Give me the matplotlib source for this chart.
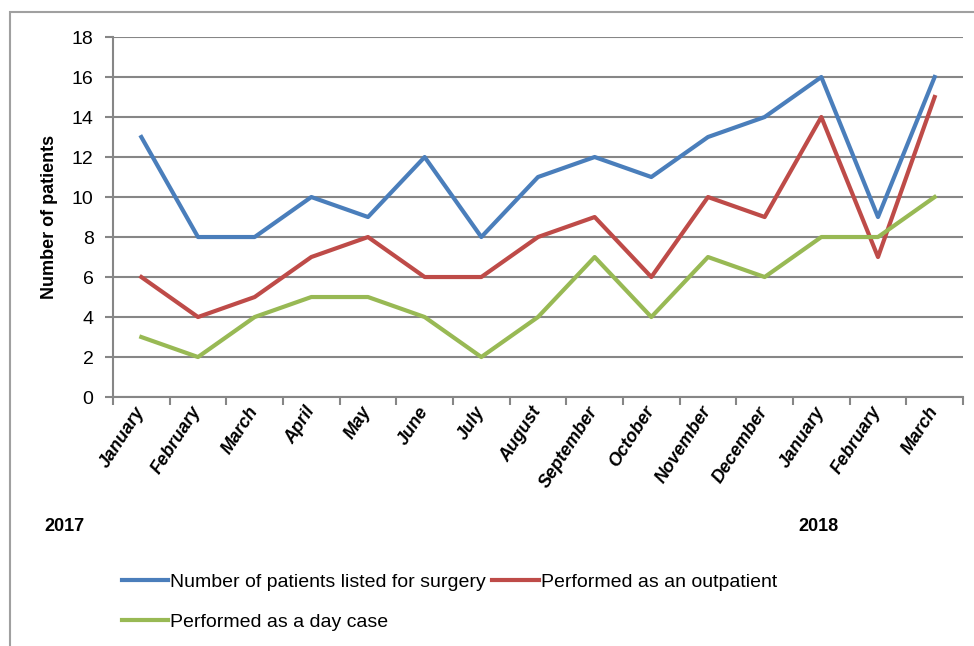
import matplotlib
matplotlib.use('Agg')
import matplotlib.pyplot as plt
from matplotlib.patches import Rectangle

plt.rcParams['font.family'] = ['Liberation Sans Narrow', 'Liberation Sans', 'DejaVu Sans']

# Monthly patient counts, January 2017 - March 2018
months = ['January', 'February', 'March', 'April', 'May', 'June', 'July', 'August',
          'September', 'October', 'November', 'December', 'January', 'February', 'March']
listed = [13, 8, 8, 10, 9, 12, 8, 11, 12, 11, 13, 14, 16, 9, 16]
outpatient = [6, 4, 5, 7, 8, 6, 6, 8, 9, 6, 10, 9, 14, 7, 15]
day_case = [3, 2, 4, 5, 5, 4, 2, 4, 7, 4, 7, 6, 8, 8, 10]
years = ['2017', '2018']

fig = plt.figure(figsize=(9.74, 6.46), dpi=100)
ax = fig.add_axes([0.116, 0.3854, 0.8727, 0.5573])

# outer chart border
fig.patches.append(Rectangle((0.0103, -0.05), 1.1, 1.031, transform=fig.transFigure,
                             fill=False, edgecolor='#a0a0a0', linewidth=1.5))

x = range(len(months))
l1, = ax.plot(x, listed, color='#4a7ebb', linewidth=3, label='Number of patients listed for surgery')
l2, = ax.plot(x, outpatient, color='#be4b48', linewidth=3, label='Performed as an outpatient')
l3, = ax.plot(x, day_case, color='#98b954', linewidth=3, label='Performed as a day case')

ax.set_xlim(-0.5, len(months) - 0.5)
ax.set_ylim(0, 18)
ax.set_yticks(range(0, 19, 2))
ax.yaxis.grid(True, color='#868686', linewidth=1.5)
ax.set_axisbelow(True)

for side in ['top', 'right']:
    ax.spines[side].set_visible(False)
for side in ['left', 'bottom']:
    ax.spines[side].set_color('#868686')
    ax.spines[side].set_linewidth(1.5)

# tick marks between categories, labels on the categories
ax.set_xticks([i - 0.5 for i in range(len(months) + 1)])
ax.set_xticklabels([])
ax.set_xticks(list(x), minor=True)
ax.set_xticklabels(months, minor=True, rotation=57, ha='right', va='center',
                   rotation_mode='anchor', fontsize=13, fontweight='bold', style='italic')
ax.tick_params(axis='x', which='major', length=6, color='#868686', width=1.5)
ax.tick_params(axis='x', which='minor', length=0, pad=8)
ax.tick_params(axis='y', length=6, color='#868686', width=1.5, labelsize=14, pad=8)

ax.set_ylabel('Number of patients', fontsize=13, fontweight='bold', labelpad=10)

fig.text(0.046, 0.178, years[0], fontsize=13, fontweight='bold')
fig.text(0.82, 0.178, years[1], fontsize=13, fontweight='bold')

fig.legend([l1, l3, l2], [l1.get_label(), l3.get_label(), l2.get_label()],
           ncol=2, loc='upper left', bbox_to_anchor=(0.107, 0.14),
           frameon=False, fontsize=14, handlelength=2.4, handletextpad=0.1,
           columnspacing=0.3, labelspacing=1.15)

plt.savefig('out.png', dpi=100)
